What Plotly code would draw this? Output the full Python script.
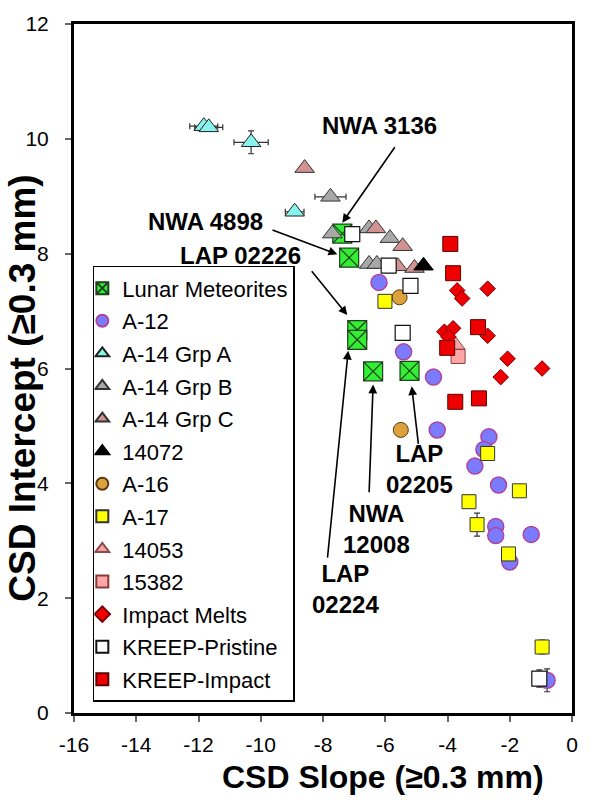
import plotly.graph_objects as go

FONT = "Liberation Sans, Arial, sans-serif"

# ---------------- data ----------------
lunar_x = [-7.38, -7.16, -6.90, -6.90, -6.39, -5.22]
lunar_y = [8.35, 7.93, 6.67, 6.50, 5.95, 5.96]

a12_x = [-6.20, -5.41, -4.45, -4.33, -2.67, -2.83, -3.12, -2.36, -2.45, -2.45, -1.31, -2.00, -0.80]
a12_y = [7.50, 6.29, 5.85, 4.93, 4.81, 4.59, 4.30, 3.97, 3.25, 3.09, 3.11, 2.63, 0.57]
a12_ey = [None, None, None, 0.08, None, None, 0.12, None, None, None, None, None, 0.2]

a14a_x = [-11.83, -11.67, -10.31, -8.91]
a14a_y = [10.22, 10.20, 9.94, 8.73]
a14a_ex = [0.45, 0.45, 0.55, 0.3]
a14a_ey = [None, None, 0.2, None]

a14b_x = [-7.76, -7.70, -6.52, -5.85, -6.52, -6.27]
a14b_y = [8.99, 8.35, 8.44, 8.27, 7.82, 7.82]
a14b_ex = [0.5, None, None, None, None, None]

a14c_x = [-8.59, -6.30, -5.44, -5.60, -5.06]
a14c_y = [9.49, 8.44, 8.13, 7.78, 7.75]

s14072_x = [-4.77]
s14072_y = [7.79]

a16_x = [-5.54, -5.50]
a16_y = [7.24, 4.93]

a17_x = [-6.01, -2.71, -1.69, -3.31, -3.05, -2.04, -0.96]
a17_y = [7.17, 4.52, 3.87, 3.68, 3.28, 2.77, 1.15]
a17_ey = [None, None, None, None, 0.2, 0.1, 0.12]

s14053_x = [-3.75]
s14053_y = [6.41]

s15382_x = [-3.66]
s15382_y = [6.21]

impact_x = [-2.71, -3.69, -3.53, -4.10, -3.82, -3.97, -2.71, -2.07, -2.29, -0.96]
impact_y = [7.39, 7.36, 7.22, 6.64, 6.70, 6.55, 6.57, 6.17, 5.85, 6.00]

pristine_x = [-7.06, -5.89, -5.19, -5.44, -1.05]
pristine_y = [8.34, 7.79, 7.44, 6.62, 0.60]
pristine_ey = [None, None, None, None, 0.15]

kimpact_x = [-3.91, -3.82, -3.02, -4.01, -3.75, -2.99]
kimpact_y = [8.17, 7.66, 6.72, 6.36, 5.42, 5.48]

x_ticks = [-16, -14, -12, -10, -8, -6, -4, -2, 0]
y_ticks = [0, 2, 4, 6, 8, 10, 12]

label_text = ["NWA 3136", "NWA 4898", "LAP 02226", "LAP<br>02224", "NWA<br>12008", "LAP<br>02205"]
label_x = [-6.17, -11.77, -10.66, -7.29, -6.27, -4.90]
label_y = [10.23, 8.56, 7.97, 2.16, 3.20, 4.25]

arrow_head_x = [-7.38, -7.54, -7.22, -7.19, -6.39, -5.15]
arrow_head_y = [8.54, 7.99, 6.93, 6.31, 5.72, 5.69]
arrow_tail_x = [-5.66, -9.67, -8.40, -7.86, -6.52, -4.93]
arrow_tail_y = [9.88, 8.42, 7.72, 2.68, 3.82, 4.66]

# ---------------- series ----------------
series = [
    dict(name="Lunar Meteorites", x=lunar_x, y=lunar_y, symbol="square-x", size=19,
         color="#33ee33", line="#1f3f1f", lw=1.2),
    dict(name="A-12", x=a12_x, y=a12_y, ey=a12_ey, symbol="circle", size=16,
         color="#7b7bff", line="#b0449c", lw=1.5),
    dict(name="A-14 Grp A", x=a14a_x, y=a14a_y, ex=a14a_ex, ey=a14a_ey, symbol="triangle-up", size=17,
         color="#88f2ec", line="#222222", lw=1),
    dict(name="A-14 Grp B", x=a14b_x, y=a14b_y, ex=a14b_ex, symbol="triangle-up", size=17,
         color="#a8a8a8", line="#333333", lw=1),
    dict(name="A-14 Grp C", x=a14c_x, y=a14c_y, symbol="triangle-up", size=17,
         color="#d39292", line="#333333", lw=1),
    dict(name="14072", x=s14072_x, y=s14072_y, symbol="triangle-up", size=17,
         color="#000000", line="#000000", lw=1),
    dict(name="A-16", x=a16_x, y=a16_y, symbol="circle", size=15,
         color="#dca23e", line="#5a3a10", lw=1),
    dict(name="A-17", x=a17_x, y=a17_y, ey=a17_ey, symbol="square", size=14,
         color="#ffff00", line="#333333", lw=1),
    dict(name="14053", x=s14053_x, y=s14053_y, symbol="triangle-up", size=17,
         color="#f2a2a2", line="#8a4a4a", lw=1),
    dict(name="15382", x=s15382_x, y=s15382_y, symbol="square", size=14,
         color="#ffa6a6", line="#8a3a3a", lw=1),
    dict(name="Impact Melts", x=impact_x, y=impact_y, symbol="diamond", size=12,
         color="#ee0000", line="#7a0000", lw=1),
    dict(name="KREEP-Pristine", x=pristine_x, y=pristine_y, ey=pristine_ey, symbol="square", size=15,
         color="#ffffff", line="#111111", lw=1.2),
    dict(name="KREEP-Impact", x=kimpact_x, y=kimpact_y, symbol="square", size=15,
         color="#ee0000", line="#600000", lw=1),
]

fig = go.Figure()
for i, s in enumerate(series):
    kw = {}
    if s.get("ex") is not None:
        kw["error_x"] = dict(type="data", array=s["ex"], visible=True, color="#333333",
                             thickness=1.2, width=3)
    if s.get("ey") is not None:
        kw["error_y"] = dict(type="data", array=s["ey"], visible=True, color="#333333",
                             thickness=1.2, width=3)
    fig.add_trace(go.Scatter(
        x=s["x"], y=s["y"], mode="markers", name=s["name"], legendgroup="g%d" % i,
        marker=dict(symbol=s["symbol"], size=s["size"], color=s["color"],
                    line=dict(color=s["line"], width=s["lw"])),
        cliponaxis=False, **kw))

L, R, T, B = 74, 13, 15, 88
W, H = 590, 801
pw, ph = W - L - R, H - T - B


def px_to_paper(px, py):
    return (px - L) / pw, (H - py - B) / ph


annotations = []
for t, x, y in zip(label_text, label_x, label_y):
    annotations.append(dict(x=x, y=y, xref="x", yref="y", text="<b>%s</b>" % t,
                            showarrow=False, font=dict(family=FONT, size=24, color="#000000"),
                            align="center", xanchor="center", yanchor="middle"))
for hx, hy, tx, ty in zip(arrow_head_x, arrow_head_y, arrow_tail_x, arrow_tail_y):
    annotations.append(dict(x=hx, y=hy, xref="x", yref="y", ax=tx, ay=ty, axref="x", ayref="y",
                            text="", showarrow=True, arrowhead=2, arrowsize=1.1, arrowwidth=1.6,
                            arrowcolor="#000000", standoff=0, startstandoff=0))
# axis titles (placed off-centre as in the reference)
xt_x, xt_y = px_to_paper(386, 778)
annotations.append(dict(x=xt_x, y=xt_y, xref="paper", yref="paper", text="<b>CSD Slope (≥0.3 mm)</b>",
                        showarrow=False, xanchor="center", yanchor="middle",
                        font=dict(family=FONT, size=32, color="#000000")))
yt_x, yt_y = px_to_paper(22, 384)
annotations.append(dict(x=yt_x, y=yt_y, xref="paper", yref="paper", text="<b>CSD Intercept (≥0.3 mm)</b>",
                        showarrow=False, textangle=-90, xanchor="center", yanchor="middle",
                        font=dict(family=FONT, size=37, color="#000000")))

lg_x, lg_y = px_to_paper(93, 260)

fig.update_layout(
    width=W, height=H,
    margin=dict(l=L, r=R, t=T, b=B, pad=0),
    paper_bgcolor="white", plot_bgcolor="white",
    font=dict(family=FONT, size=21, color="#000000"),
    showlegend=True,
    legend=dict(x=lg_x, y=lg_y, xanchor="left", yanchor="top",
                bgcolor="white", bordercolor="#000000", borderwidth=1.5,
                font=dict(family=FONT, size=22, color="#000000"),
                itemsizing="constant", tracegroupgap=1, indentation=-12),
    annotations=annotations,
)
fig.update_xaxes(range=[-16, 0], tickvals=x_ticks, ticktext=[str(v) for v in x_ticks],
                 ticks="outside", ticklen=6, tickwidth=1.5,
                 tickcolor="#666666", showline=True, linewidth=3, linecolor="#000000", mirror=True,
                 showgrid=False, zeroline=False, ticklabelstandoff=5,
                 tickfont=dict(family=FONT, size=21, color="#000000"))
fig.update_yaxes(range=[0, 12], tickvals=y_ticks, ticktext=[str(v) for v in y_ticks],
                 ticks="outside", ticklen=6, tickwidth=1.5,
                 tickcolor="#666666", showline=True, linewidth=3, linecolor="#000000", mirror=True,
                 showgrid=False, zeroline=False, ticklabelstandoff=12,
                 tickfont=dict(family=FONT, size=21, color="#000000"))

fig.write_html("out.html")
